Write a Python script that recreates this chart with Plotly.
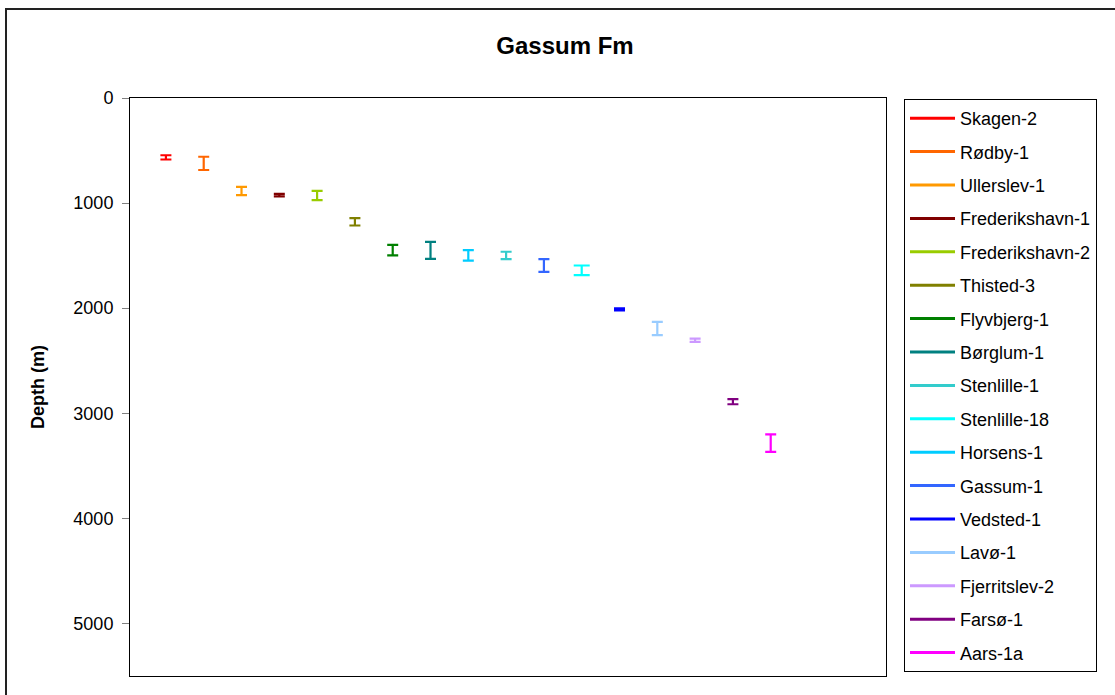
import plotly.graph_objects as go

wells = ["Skagen-2", "Rødby-1", "Ullerslev-1", "Frederikshavn-1", "Frederikshavn-2",
         "Thisted-3", "Flyvbjerg-1", "Børglum-1", "Stenlille-1", "Stenlille-18",
         "Horsens-1", "Gassum-1", "Vedsted-1", "Lavø-1", "Fjerritslev-2", "Farsø-1", "Aars-1a"]
x_pos = [1, 2, 3, 4, 5, 6, 7, 8, 10, 12, 9, 11, 13, 14, 15, 16, 17]
depth_mid = [565, 622, 885, 925, 927, 1178, 1448, 1450, 1498, 1640,
             1498, 1594, 2012, 2193, 2305, 2890, 3284]
depth_err = [20, 63, 40, 12, 44, 35, 50, 80, 35, 46, 50, 60, 10, 63, 15, 24, 84]
colors = ["#FF0000", "#FF6600", "#FF9900", "#800000", "#99CC00", "#808000", "#008000",
          "#008080", "#33CCCC", "#00FFFF", "#00CCFF", "#3366FF", "#0000FF", "#99CCFF",
          "#CC99FF", "#800080", "#FF00FF"]
cap_w = [5.5] * 17
cap_w[9] = 8

FONT = "Liberation Sans, Arial, sans-serif"

fig = go.Figure()
for i, name in enumerate(wells):
    fig.add_trace(go.Scatter(
        x=[x_pos[i]], y=[depth_mid[i]], name=name, mode="lines",
        legendgroup=name,
        line=dict(color=colors[i], width=3),
        error_y=dict(type="data", array=[depth_err[i]], visible=True,
                     color=colors[i], thickness=2.2, width=cap_w[i]),
    ))

L, R, T, B = 130, 229, 98, 19
PW, PH = 1115 - L - R, 695 - T - B

fig.update_layout(
    width=1115, height=695,
    margin=dict(l=L, r=R, t=T, b=B),
    paper_bgcolor="white", plot_bgcolor="white",
    font=dict(family=FONT, size=18, color="black"),
    title=dict(text="<b>Gassum Fm</b>", x=565 / 1115, xanchor="center",
               y=1 - 46 / 695, yanchor="middle", font=dict(size=24, family=FONT)),
    xaxis=dict(range=[0.05, 20.05], showticklabels=False, ticks="", showgrid=False,
               zeroline=False, showline=True, linecolor="black", linewidth=1, mirror=True),
    yaxis=dict(range=[5500, 0], dtick=1000, tick0=0, ticks="outside", ticklen=7,
               tickcolor="#808080", showgrid=False, zeroline=False,
               showline=True, linecolor="black", linewidth=1, mirror=True,
               tickfont=dict(size=18), ticklabelstandoff=5,
               title=dict(text="<b>Depth (m)</b>", font=dict(size=18), standoff=24)),
    legend=dict(x=(904 - L) / PW, y=1 - (99 - T) / PH, xanchor="left", yanchor="top",
                bordercolor="black", borderwidth=1, bgcolor="white",
                font=dict(size=18), tracegroupgap=7, traceorder="grouped",
                itemwidth=45),
    showlegend=True,
    shapes=[dict(type="rect", xref="paper", yref="paper",
                 x0=(6 - L) / PW, x1=(1130 - L) / PW,
                 y0=-(710 - 676) / PH, y1=1 + (T - 9) / PH,
                 line=dict(color="#222222", width=2), fillcolor="rgba(0,0,0,0)",
                 layer="below")],
)

fig.write_html("out.html", config={"displayModeBar": False},
               post_script="document.body.style.margin='0';")
